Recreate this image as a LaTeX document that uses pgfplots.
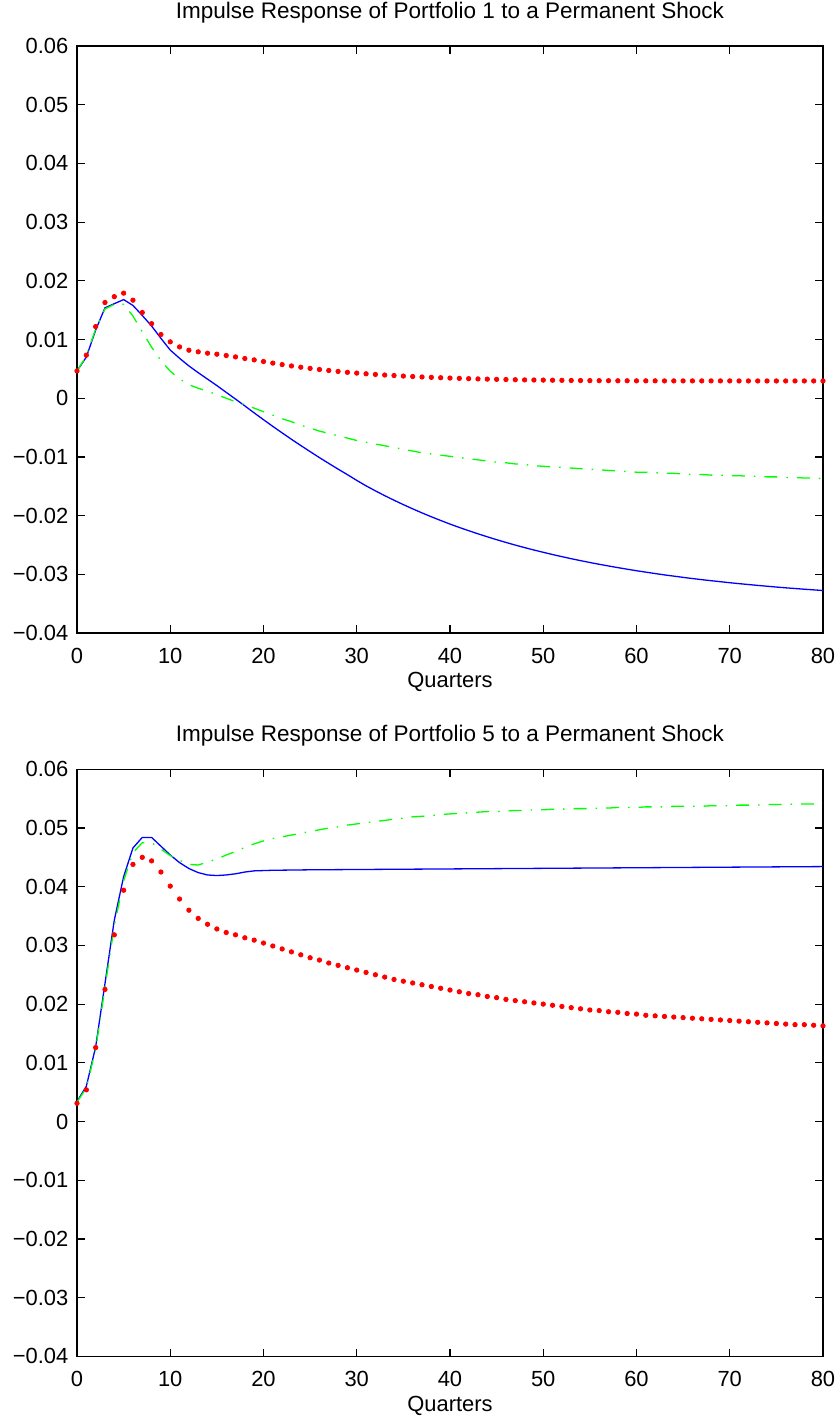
\documentclass[border=0pt]{standalone}
\usepackage{fontspec}
\setmainfont{Liberation Sans}
\usepackage{pgfplots}
\usepackage{pgfplotstable}
\pgfplotsset{compat=1.18}

% Portfolio 1: q, solid (blue), dash-dot (green), dots (red)
\pgfplotstableread{
q blue green red
0 0.00465 0.0046 0.00465
1 0.0070 0.0072 0.00733
2 0.0116 0.0118 0.0122
3 0.0154 0.0152 0.0163
4 0.0161 0.0160 0.0173
5 0.0168 0.0160 0.0179
6 0.0158 0.0140 0.0167
7 0.0141 0.0113 0.0146
8 0.0123 0.0087 0.0127
9 0.0102 0.0064 0.01085
10 0.0082 0.0046 0.0096
11 0.0068 0.0033 0.00874
12 0.0055 0.0023 0.00818
13 0.00435 0.0017 0.0079
14 0.00325 0.0012 0.00767
15 0.00215 0.0006 0.0075
16 0.00100 0.0000 0.00727
17 -0.00015 -0.0006 0.00704
18 -0.00131 -0.0011 0.00676
19 -0.00250 -0.0017 0.00653
20 -0.00366 -0.0023 0.00625
21 -0.00480 -0.0029 0.00598
22 -0.00591 -0.0035 0.00573
23 -0.00700 -0.0040 0.00550
24 -0.00806 -0.0046 0.00528
25 -0.00910 -0.0051 0.00508
26 -0.01012 -0.0056 0.00489
27 -0.01111 -0.0060 0.00472
28 -0.01208 -0.0064 0.00456
29 -0.01302 -0.0068 0.00441
30 -0.01400 -0.0072 0.00428
31 -0.01493 -0.0075 0.00416
32 -0.01578 -0.0078 0.00405
33 -0.01660 -0.0081 0.00395
34 -0.01738 -0.0084 0.00386
35 -0.01813 -0.0087 0.00377
36 -0.01885 -0.0090 0.00369
37 -0.01954 -0.0093 0.00362
38 -0.02020 -0.0095 0.00355
39 -0.02083 -0.0097 0.00349
40 -0.02144 -0.0099 0.00343
41 -0.02202 -0.0101 0.00338
42 -0.02257 -0.0103 0.00333
43 -0.02310 -0.0105 0.00329
44 -0.02361 -0.0107 0.00325
45 -0.02410 -0.0109 0.00321
46 -0.02457 -0.0110 0.00318
47 -0.02502 -0.0112 0.00315
48 -0.02545 -0.0113 0.00312
49 -0.02586 -0.0115 0.00310
50 -0.02625 -0.0116 0.00308
51 -0.02663 -0.0117 0.00306
52 -0.02699 -0.0118 0.00304
53 -0.02734 -0.0119 0.00302
54 -0.02767 -0.0120 0.00301
55 -0.02799 -0.0121 0.00300
56 -0.02829 -0.0122 0.00299
57 -0.02858 -0.0123 0.00298
58 -0.02886 -0.0124 0.00297
59 -0.02913 -0.0125 0.00297
60 -0.02939 -0.0126 0.00296
61 -0.02963 -0.0126 0.00296
62 -0.02987 -0.0127 0.00296
63 -0.03010 -0.0128 0.00295
64 -0.03031 -0.0128 0.00295
65 -0.03052 -0.0129 0.00295
66 -0.03072 -0.0130 0.00295
67 -0.03091 -0.0130 0.00295
68 -0.03109 -0.0131 0.00295
69 -0.03126 -0.0131 0.00295
70 -0.03143 -0.0132 0.00295
71 -0.03159 -0.0132 0.00294
72 -0.03174 -0.0133 0.00294
73 -0.03189 -0.0133 0.00294
74 -0.03203 -0.0134 0.00294
75 -0.03217 -0.0134 0.00294
76 -0.03230 -0.0135 0.00294
77 -0.03242 -0.0135 0.00294
78 -0.03254 -0.0136 0.00294
79 -0.03265 -0.0136 0.00294
80 -0.03276 -0.0137 0.00294
}\portone

% Portfolio 5
\pgfplotstableread{
q blue green red
0 0.0034 0.0033 0.0031
1 0.0060 0.0057 0.0054
2 0.0127 0.0123 0.0126
3 0.0235 0.0228 0.0225
4 0.0343 0.0333 0.0318
5 0.0417 0.0410 0.0394
6 0.0466 0.0458 0.0438
7 0.0484 0.0475 0.0450
8 0.0484 0.0475 0.0444
9 0.0469 0.0464 0.0425
10 0.0454 0.0453 0.0401
11 0.0441 0.0445 0.0379
12 0.0431 0.0438 0.0360
13 0.0424 0.0437 0.0346
14 0.0420 0.0442 0.0336
15 0.0419 0.0447 0.0328
16 0.0420 0.0454 0.0322
17 0.0422 0.0460 0.0318
18 0.0425 0.0467 0.0313
19 0.0427 0.0473 0.0309
20 0.04275 0.0478 0.0304
21 0.04280 0.0482 0.0299
22 0.04282 0.0485 0.0294
23 0.04284 0.0488 0.0289
24 0.04286 0.0491 0.0284
25 0.04288 0.0494 0.0279
26 0.04289 0.0497 0.0275
27 0.04290 0.0500 0.0270
28 0.04291 0.0502 0.0266
29 0.04292 0.0505 0.0262
30 0.04293 0.0507 0.0258
31 0.04294 0.0509 0.0254
32 0.04295 0.0511 0.0250
33 0.04296 0.0513 0.0246
34 0.04297 0.0515 0.0242
35 0.04298 0.0517 0.0239
36 0.04299 0.0519 0.0236
37 0.04300 0.0520 0.0233
38 0.04301 0.0521 0.0230
39 0.04302 0.0523 0.0227
40 0.04303 0.0524 0.0224
41 0.04304 0.0525 0.0221
42 0.04305 0.0526 0.0218
43 0.04306 0.0527 0.0216
44 0.04307 0.0528 0.0213
45 0.04308 0.0528 0.0211
46 0.04309 0.0529 0.0208
47 0.04310 0.0530 0.0206
48 0.04311 0.0530 0.0204
49 0.04312 0.0531 0.0202
50 0.04313 0.0531 0.0200
51 0.04314 0.0532 0.0198
52 0.04315 0.0532 0.0196
53 0.04316 0.0533 0.0194
54 0.04317 0.0533 0.0192
55 0.04318 0.0533 0.0190
56 0.04319 0.0534 0.0189
57 0.04320 0.0534 0.0187
58 0.04321 0.0535 0.0186
59 0.04322 0.0535 0.0184
60 0.04323 0.0535 0.0183
61 0.04324 0.0536 0.0181
62 0.04325 0.0536 0.0180
63 0.04326 0.0536 0.0179
64 0.04327 0.0537 0.0178
65 0.04328 0.0537 0.0177
66 0.04329 0.0537 0.0176
67 0.04330 0.0537 0.0175
68 0.04331 0.0538 0.0174
69 0.04332 0.0538 0.0173
70 0.04333 0.0538 0.0172
71 0.04334 0.0539 0.0171
72 0.04335 0.0539 0.0170
73 0.04336 0.0539 0.0169
74 0.04337 0.0540 0.0168
75 0.04338 0.0540 0.0167
76 0.04339 0.0540 0.0166
77 0.04340 0.0541 0.0165
78 0.04341 0.0541 0.0165
79 0.04342 0.0541 0.0164
80 0.04343 0.0542 0.0163
}\portfive

\pgfplotsset{
  irf/.style={
    anchor=north west,
    scale only axis,
    width=373bp, height=293.5bp,
    xmin=0, xmax=80, ymin=-0.04, ymax=0.06,
    xtick={0,10,20,30,40,50,60,70,80},
    xticklabels={0,10,20,30,40,50,60,70,80},
    ytick={-0.04,-0.03,-0.02,-0.01,0,0.01,0.02,0.03,0.04,0.05,0.06},
    yticklabels={−0.04,−0.03,−0.02,−0.01,0,0.01,0.02,0.03,0.04,0.05,0.06},
    scaled y ticks=false, scaled x ticks=false,
    tick align=inside, tick pos=both,
    major tick length=3.85bp,
    axis line style={line width=0.8bp},
    tick style={black, line width=0.6bp},
    tick label style={font=\fontsize{11}{13}\selectfont},
    xticklabel style={anchor=base, yshift=-15bp},
    yticklabel style={anchor=east, xshift=-0.8bp},
    xlabel={Quarters},
    label style={font=\fontsize{11}{13}\selectfont},
    xlabel style={at={(axis description cs:0.5,0)}, anchor=base, yshift=-27.4bp},
    title style={font=\fontsize{11.3}{13}\selectfont, at={(axis description cs:0.5,1)}, anchor=base, yshift=8bp},
  },
  blueline/.style={blue, line width=0.65bp},
  greenline/.style={color={rgb,1:red,0;green,1;blue,0}, line width=0.65bp, dash pattern=on 6.5bp off 4.5bp on 0.75bp off 4.5bp},
  reddots/.style={only marks, mark=*, mark size=1.1bp, color={rgb,1:red,1;green,0;blue,0}},
}

\begin{document}
\begin{tikzpicture}
\begin{axis}[irf, at={(0,0)}, title={Impulse Response of Portfolio 1 to a Permanent Shock}]
\addplot[blueline] table[x=q, y=blue] {\portone};
\addplot[greenline] table[x=q, y=green] {\portone};
\addplot[reddots] table[x=q, y=red] {\portone};
\end{axis}
\begin{axis}[irf, at={(0,-361.65bp)}, title={Impulse Response of Portfolio 5 to a Permanent Shock}]
\addplot[blueline] table[x=q, y=blue] {\portfive};
\addplot[greenline] table[x=q, y=green] {\portfive};
\addplot[reddots] table[x=q, y=red] {\portfive};
\end{axis}
\pgfresetboundingbox
\path[use as bounding box] (-38.5bp,23bp) rectangle (381.5bp,-686bp);
\end{tikzpicture}
\end{document}
